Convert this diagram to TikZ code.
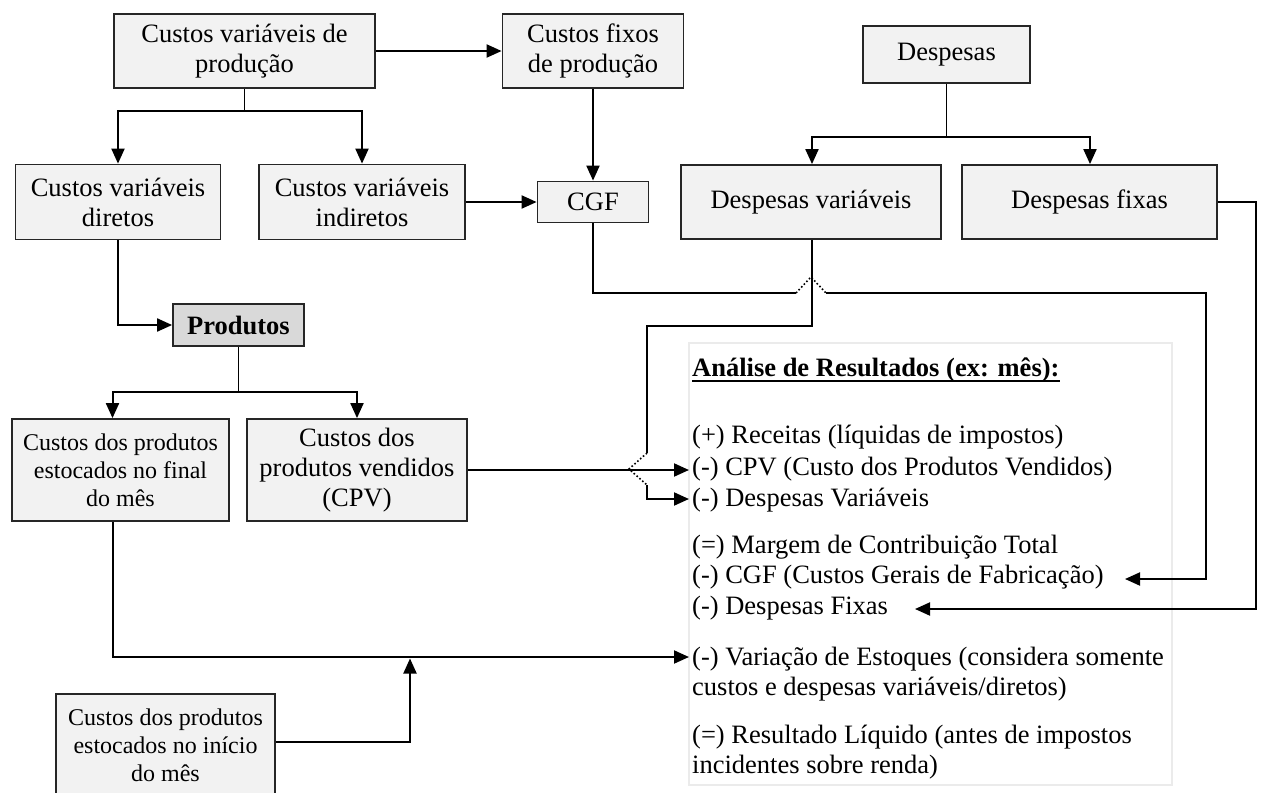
\documentclass[tikz,border=0pt]{standalone}
\usepackage{fontspec}
\setmainfont{Liberation Serif}
\usetikzlibrary{arrows.meta}
\definecolor{boxfill}{HTML}{F2F2F2}
\definecolor{prodfill}{HTML}{D9D9D9}
\definecolor{boxline}{HTML}{262626}
\definecolor{panelline}{HTML}{EBEBEB}
\tikzset{
  box/.style={draw=boxline, line width=1.8pt, fill=boxfill, inner sep=0pt,
    align=center, font=\fontsize{26.5}{30}\selectfont},
  smallbox/.style={box, font=\fontsize{24}{28}\selectfont},
  conn/.style={line width=1.5pt},
  arr/.style={line width=2pt, -{Triangle[length=15pt,width=13pt]}},
  hop/.style={line width=1.6pt, dash pattern=on 1.6pt off 2.2pt},
  itemtext/.style={anchor=base west, inner sep=0pt, font=\fontsize{26.5}{30}\selectfont},
}
\begin{document}
\begin{tikzpicture}[x=1pt,y=-1pt]
\useasboundingbox (0,0) rectangle (1262,793);

% production costs and expenses
\node[box, minimum width=261pt, minimum height=74pt] (A) at (244.5,51) {Custos variáveis de\\produção};
\node[box, minimum width=181pt, minimum height=74pt] (B) at (593,51) {Custos fixos\\de produção};
\node[box, minimum width=167pt, minimum height=57pt] (Desp) at (946.5,54.5) {Despesas};
\node[box, minimum width=205pt, minimum height=75pt] (D) at (118,202) {Custos variáveis\\diretos};
\node[box, minimum width=206pt, minimum height=75pt] (E) at (362,202) {Custos variáveis\\indiretos};
\node[box, minimum width=111pt, minimum height=41pt] (CGF) at (593,202) {CGF};
\node[box, minimum width=260pt, minimum height=74pt] (DV) at (811,202) {Despesas variáveis};
\node[box, minimum width=255pt, minimum height=74pt] (DF) at (1089.5,202) {Despesas fixas};
\node[box, fill=prodfill, minimum width=131pt, minimum height=42pt, font=\fontsize{26.5}{30}\selectfont\bfseries] (P) at (238.5,325) {Produtos};
\node[smallbox, minimum width=217pt, minimum height=102pt] (F) at (120.5,470) {Custos dos produtos\\estocados no final\\do mês};
\node[box, minimum width=220pt, minimum height=102pt] (G) at (357,470) {Custos dos\\produtos vendidos\\(CPV)};
\node[smallbox, minimum width=219pt, minimum height=102pt] (H) at (165.5,745) {Custos dos produtos\\estocados no início\\do mês};

% results panel
\node[draw=panelline, line width=1.5pt, minimum width=483pt, minimum height=442pt, inner sep=0pt] (panel) at (930.5,564) {};
\node[itemtext, font=\fontsize{26.5}{30}\selectfont\bfseries] (tTitle) at (692,376) {Análise de Resultados (ex: mês):};
\draw[line width=2.2pt] ([yshift=-5pt]tTitle.base west) -- ([yshift=-5pt]tTitle.base east);
\node[itemtext] (tRec) at (692,443) {(+) Receitas (líquidas de impostos)};
\node[itemtext] (tCPVtext) at (692,475) {(-) CPV (Custo dos Produtos Vendidos)};
\node[itemtext] (tDVtext) at (692,506) {(-) Despesas Variáveis};
\node[itemtext] (tMarg) at (692,553) {(=) Margem de Contribuição Total};
\node[itemtext] (tCGFtext) at (692,583) {(-) CGF (Custos Gerais de Fabricação)};
\node[itemtext] (tDFtext) at (692,614) {(-) Despesas Fixas};
\node[itemtext] (tVar1) at (692,665) {(-) Variação de Estoques (considera somente};
\node[itemtext] (tVar2) at (692,695) {custos e despesas variáveis/diretos)};
\node[itemtext] (tRes1) at (692,743) {(=) Resultado Líquido (antes de impostos};
\node[itemtext] (tRes2) at (692,773) {incidentes sobre renda)};

% arrow targets beside the panel lines
\coordinate (tCPV) at (689,470);
\coordinate (tDV) at (689,499);
\coordinate (tCGF) at (1125,579);
\coordinate (tDF) at (915,609);
\coordinate (tVar) at (689,657);

% connectors in the upper part
\draw[arr] (A.east) -- (B.west);
\draw[conn] (A.south) -- ++(0,22) coordinate (aj);
\draw[arr] (aj) -| (D.north);
\draw[arr] (aj) -| (E.north);
\draw[arr] (B.south) -- (CGF.north);
\draw[arr] (E.east) -- (CGF.west);
\draw[conn] (Desp.south) -- ++(0,53) coordinate (dj);
\draw[arr] (dj) -| ([xshift=1pt]DV.north);
\draw[arr] (dj) -| ([xshift=0.5pt]DF.north);

% products
\draw[arr] (D.south) |- (P.west);
\draw[conn] (P.south) -- ++(0,45) coordinate (pj);
\draw[arr] (pj) -| ([xshift=-8pt]F.north);
\draw[arr] (pj) -| (G.north);
\draw[arr] (G.east |- tCPV) -- (tCPV);

% CGF to the panel, hopping over the variable expenses line
\coordinate (cgfHop1) at (796,293);
\coordinate (cgfHopApex) at (811,277);
\coordinate (cgfHop2) at (826,293);
\coordinate (cgfCorner) at (1206,293);
\draw[conn] (CGF.south) |- (cgfHop1);
\draw[hop] (cgfHop1) -- (cgfHopApex) -- (cgfHop2);
\draw[arr] (cgfHop2) -- (cgfCorner) |- (tCGF);

% variable expenses to the panel, hopping over the CPV line
\coordinate (dvTurn) at (647,326);
\coordinate (dvHop1) at (647,453);
\coordinate (dvHopApex) at (629,469);
\coordinate (dvHop2) at (647,485);
\draw[conn] ([xshift=1pt]DV.south) |- (dvTurn) -- (dvHop1);
\draw[hop] (dvHop1) -- (dvHopApex) -- (dvHop2);
\draw[arr] (dvHop2) |- (tDV);

% fixed expenses
\coordinate (dfCorner) at (1256,202);
\draw[arr] (DF.east) -- (dfCorner) |- (tDF);

% stock variation
\draw[arr] ([xshift=-8pt]F.south) |- (tVar);
\coordinate (hTip) at (410,658.5);
\draw[arr] ([yshift=3pt]H.east) -| (hTip);
\end{tikzpicture}
\end{document}
